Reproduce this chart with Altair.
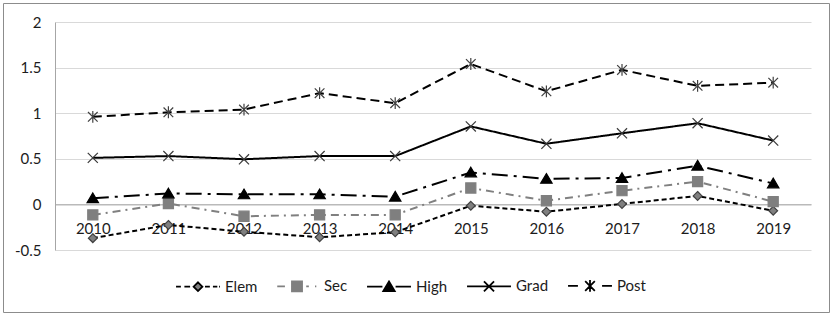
import altair as alt
import pandas as pd

years = ["2010", "2011", "2012", "2013", "2014", "2015", "2016", "2017", "2018", "2019"]
series = ["Elem", "Sec", "High", "Grad", "Post"]

elem = [-0.37, -0.225, -0.30, -0.36, -0.305, -0.015, -0.08, 0.005, 0.093, -0.07]
sec = [-0.115, 0.01, -0.13, -0.115, -0.115, 0.18, 0.04, 0.15, 0.25, 0.03]
high = [0.068, 0.12, 0.11, 0.11, 0.085, 0.35, 0.28, 0.29, 0.425, 0.23]
grad = [0.51, 0.53, 0.495, 0.53, 0.53, 0.855, 0.665, 0.78, 0.89, 0.70]
post = [0.96, 1.01, 1.04, 1.22, 1.11, 1.54, 1.24, 1.475, 1.30, 1.335]

values = {"Elem": elem, "Sec": sec, "High": high, "Grad": grad, "Post": post}
rows = []
for s in series:
    for y, v in zip(years, values[s]):
        rows.append({"year": y, "series": s, "value": v})
df = pd.DataFrame(rows)

line_colors = ["#000000", "#808080", "#000000", "#000000", "#000000"]
dashes = [[5, 3], [8, 5, 2, 5], [16, 6, 3, 6], [1, 0], [9, 5]]
# marker glyphs (unit box, scaled by point size)
shapes = [
    "M0,-0.2L0.2,0L0,0.2L-0.2,0Z",
    "M-0.23,-0.23L0.23,-0.23L0.23,0.23L-0.23,0.23Z",
    "M0,-0.24L0.26,0.2L-0.26,0.2Z",
    "M-0.23,-0.23L0.23,0.23M0.23,-0.23L-0.23,0.23",
    "M-0.22,-0.22L0.22,0.22M0.22,-0.22L-0.22,0.22M0,-0.27L0,0.27",
]
# legend glyphs: line sample (dashes drawn as segments) + marker
legend_shapes = [
    "M-1,0L-0.78,0M-0.62,0L-0.36,0M0.32,0L0.54,0M0.68,0L0.88,0M0.96,0L1,0"
    "M0,-0.2L0.2,0L0,0.2L-0.2,0Z",
    "M-0.9,0L-0.55,0M0.42,0L0.54,0M0.82,0L0.88,0"
    "M-0.23,-0.23L0.23,-0.23L0.23,0.23L-0.23,0.23Z",
    "M-1,0L-0.3,0M0.3,0L1,0M0,-0.24L0.26,0.2L-0.26,0.2Z",
    "M-1,0L1,0M-0.23,-0.23L0.23,0.23M0.23,-0.23L-0.23,0.23",
    "M-1,0L-0.55,0M0.55,0L1,0"
    "M-0.22,-0.22L0.22,0.22M0.22,-0.22L-0.22,0.22M0,-0.27L0,0.27",
]
fills = ["#7f7f7f", "#7f7f7f", "#000000", "#3a3a3a", "#404040"]
strokes = ["#404040", "#7f7f7f", "#000000", "#3a3a3a", "#404040"]
legend_fills = ["#7f7f7f", "#7f7f7f", "#000000", "#000000", "#000000"]

SZ = 43.9 ** 2
FONT = "Lato"
TXT = "#1c1c1c"

xaxis = alt.Axis(title=None, offset=-45.6, ticks=False, grid=False, labelAngle=0,
                 domainColor="#a6a6a6", domainWidth=1, labelPadding=17,
                 labelFont=FONT, labelFontSize=15, labelColor=TXT)
yaxis = alt.Axis(title=None, values=[-0.5, 0, 0.5, 1, 1.5, 2], ticks=False,
                 gridColor="#d9d9d9", gridWidth=1, domainColor="#a6a6a6",
                 labelPadding=14, labelFont=FONT, labelFontSize=15, labelColor=TXT,
                 labelExpr="datum.value < 0 ? '-' + format(-datum.value, '~g') : format(datum.value, '~g')")

xenc = alt.X("year:O", sort=years, scale=alt.Scale(padding=0.5), axis=xaxis)
yenc = alt.Y("value:Q", scale=alt.Scale(domain=[-0.5, 2], nice=False, zero=False), axis=yaxis)

leg = alt.Legend(orient="none", legendX=120, legendY=240.7, direction="horizontal",
                 columns=5, title=None, symbolSize=SZ, columnPadding=15,
                 symbolStrokeWidth=1.8, labelOffset=4,
                 labelFont=FONT, labelFontSize=15, labelColor=TXT, padding=0)

base = alt.Chart(df)

lines = base.mark_line(strokeWidth=2).encode(
    x=xenc, y=yenc,
    color=alt.Color("series:N", scale=alt.Scale(domain=series, range=line_colors), legend=None),
    strokeDash=alt.StrokeDash("series:N", scale=alt.Scale(domain=series, range=dashes), legend=None),
)

points = base.mark_point(filled=True, size=SZ, strokeWidth=1.2, opacity=1).encode(
    x=xenc, y=yenc,
    shape=alt.Shape("series:N", scale=alt.Scale(domain=series, range=shapes), legend=None),
    fill=alt.Fill("series:N", scale=alt.Scale(domain=series, range=fills), legend=None),
    stroke=alt.Stroke("series:N", scale=alt.Scale(domain=series, range=strokes), legend=None),
)

legend_layer = base.transform_filter("false").mark_point(
    filled=True, size=SZ, strokeWidth=1.8, opacity=1
).encode(
    x=xenc, y=yenc,
    shape=alt.Shape("series:N", scale=alt.Scale(domain=series, range=legend_shapes), legend=leg),
    fill=alt.Fill("series:N", scale=alt.Scale(domain=series, range=legend_fills), legend=leg),
    stroke=alt.Stroke("series:N", scale=alt.Scale(domain=series, range=line_colors), legend=leg),
)

frame = alt.Chart(alt.Data(values=[{}])).mark_rect(
    fill="transparent", stroke="#8c8c8c", strokeWidth=1
).encode(x=alt.value(-51.5), x2=alt.value(774.5), y=alt.value(-18.5), y2=alt.value(290.5))

chart = alt.layer(lines, points, legend_layer, frame).resolve_scale(
    color="independent", strokeDash="independent", shape="independent",
    fill="independent", stroke="independent"
).properties(
    width=756, height=228,
    autosize=alt.AutoSizeParams(type="none"),
    padding={"left": 55, "top": 22, "right": 28, "bottom": 68},
    background="white",
).configure_view(stroke="transparent")

chart.save("out.html", embed_options={"renderer": "svg", "actions": False})
